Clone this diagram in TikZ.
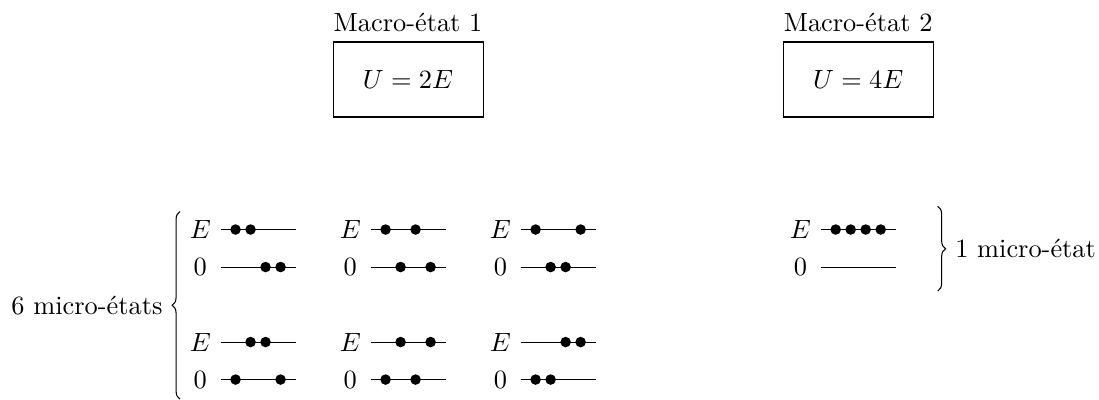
\documentclass[tikz,border=0pt]{standalone}
\usetikzlibrary{positioning, decorations.pathreplacing}

\tikzset{
  macrobox/.style={draw, minimum width=2cm, minimum height=1cm},
  curly/.style={decorate, decoration={brace, amplitude=3pt}},
}

\begin{document}
\begin{tikzpicture}
  \useasboundingbox (-5.44, -4.26) rectangle (9.21, 1.06);

  % Macro-states
  \node [macrobox] (macro1) at (0, 0) {$U = 2E$};
  \node [above] (title1) at (macro1.north) {Macro-état 1};
  \node [macrobox] (macro2) at (6, 0) {$U = 4E$};
  \node [above] (title2) at (macro2.north) {Macro-état 2};

  % Micro-states of macro-state 1
  % \c = column, \r = row, then slots of the two particles on E and on 0
  \foreach \c/\r/\ea/\eb/\za/\zb in {
    0/0/1/2/3/4,
    1/0/1/3/2/4,
    2/0/1/4/2/3,
    0/1/2/3/1/4,
    1/1/2/4/1/3,
    2/1/3/4/1/2
  } {
    \pgfmathsetmacro\xs{-2.5 + 2 * \c};
    \pgfmathsetmacro\ye{-2 - 1.5 * \r};
    \pgfmathsetmacro\yz{\ye - 0.5};

    \node (levE-\c-\r) at ({\xs - 0.27}, \ye) {$E$};
    \node (lev0-\c-\r) at ({\xs - 0.27}, \yz) {$0$};
    \draw (\xs, \ye) -- ++(1, 0);
    \draw (\xs, \yz) -- ++(1, 0);
    \foreach \k in {\ea, \eb}
      \fill ({\xs + 0.2 * \k}, \ye) circle (2pt);
    \foreach \k in {\za, \zb}
      \fill ({\xs + 0.2 * \k}, \yz) circle (2pt);
  }

  % Micro-state of macro-state 2
  \node (levE-m2) at (5.23, -2) {$E$};
  \node (lev0-m2) at (5.23, -2.5) {$0$};
  \draw (5.5, -2) -- (6.5, -2);
  \draw (5.5, -2.5) -- (6.5, -2.5);
  \foreach \k in {1, 2, 3, 4}
    \fill ({5.5 + 0.2 * \k}, -2) circle (2pt);

  % Braces and counts
  \coordinate (lbot) at (-3.04, -4.26);
  \coordinate (ltop) at (-3.04, -1.76);
  \coordinate (ltip) at (-3.15, -3.01);
  \draw [curly] (lbot) -- (ltop);
  \node [left=0pt of ltip] (count1) {6 micro-états};

  \coordinate (rtop) at (7.06, -1.69);
  \coordinate (rbot) at (7.06, -2.82);
  \coordinate (rtip) at (7.17, -2.25);
  \draw [curly] (rtop) -- (rbot);
  \node [right=0pt of rtip] (count2) {1 micro-état};

\end{tikzpicture}
\end{document}
